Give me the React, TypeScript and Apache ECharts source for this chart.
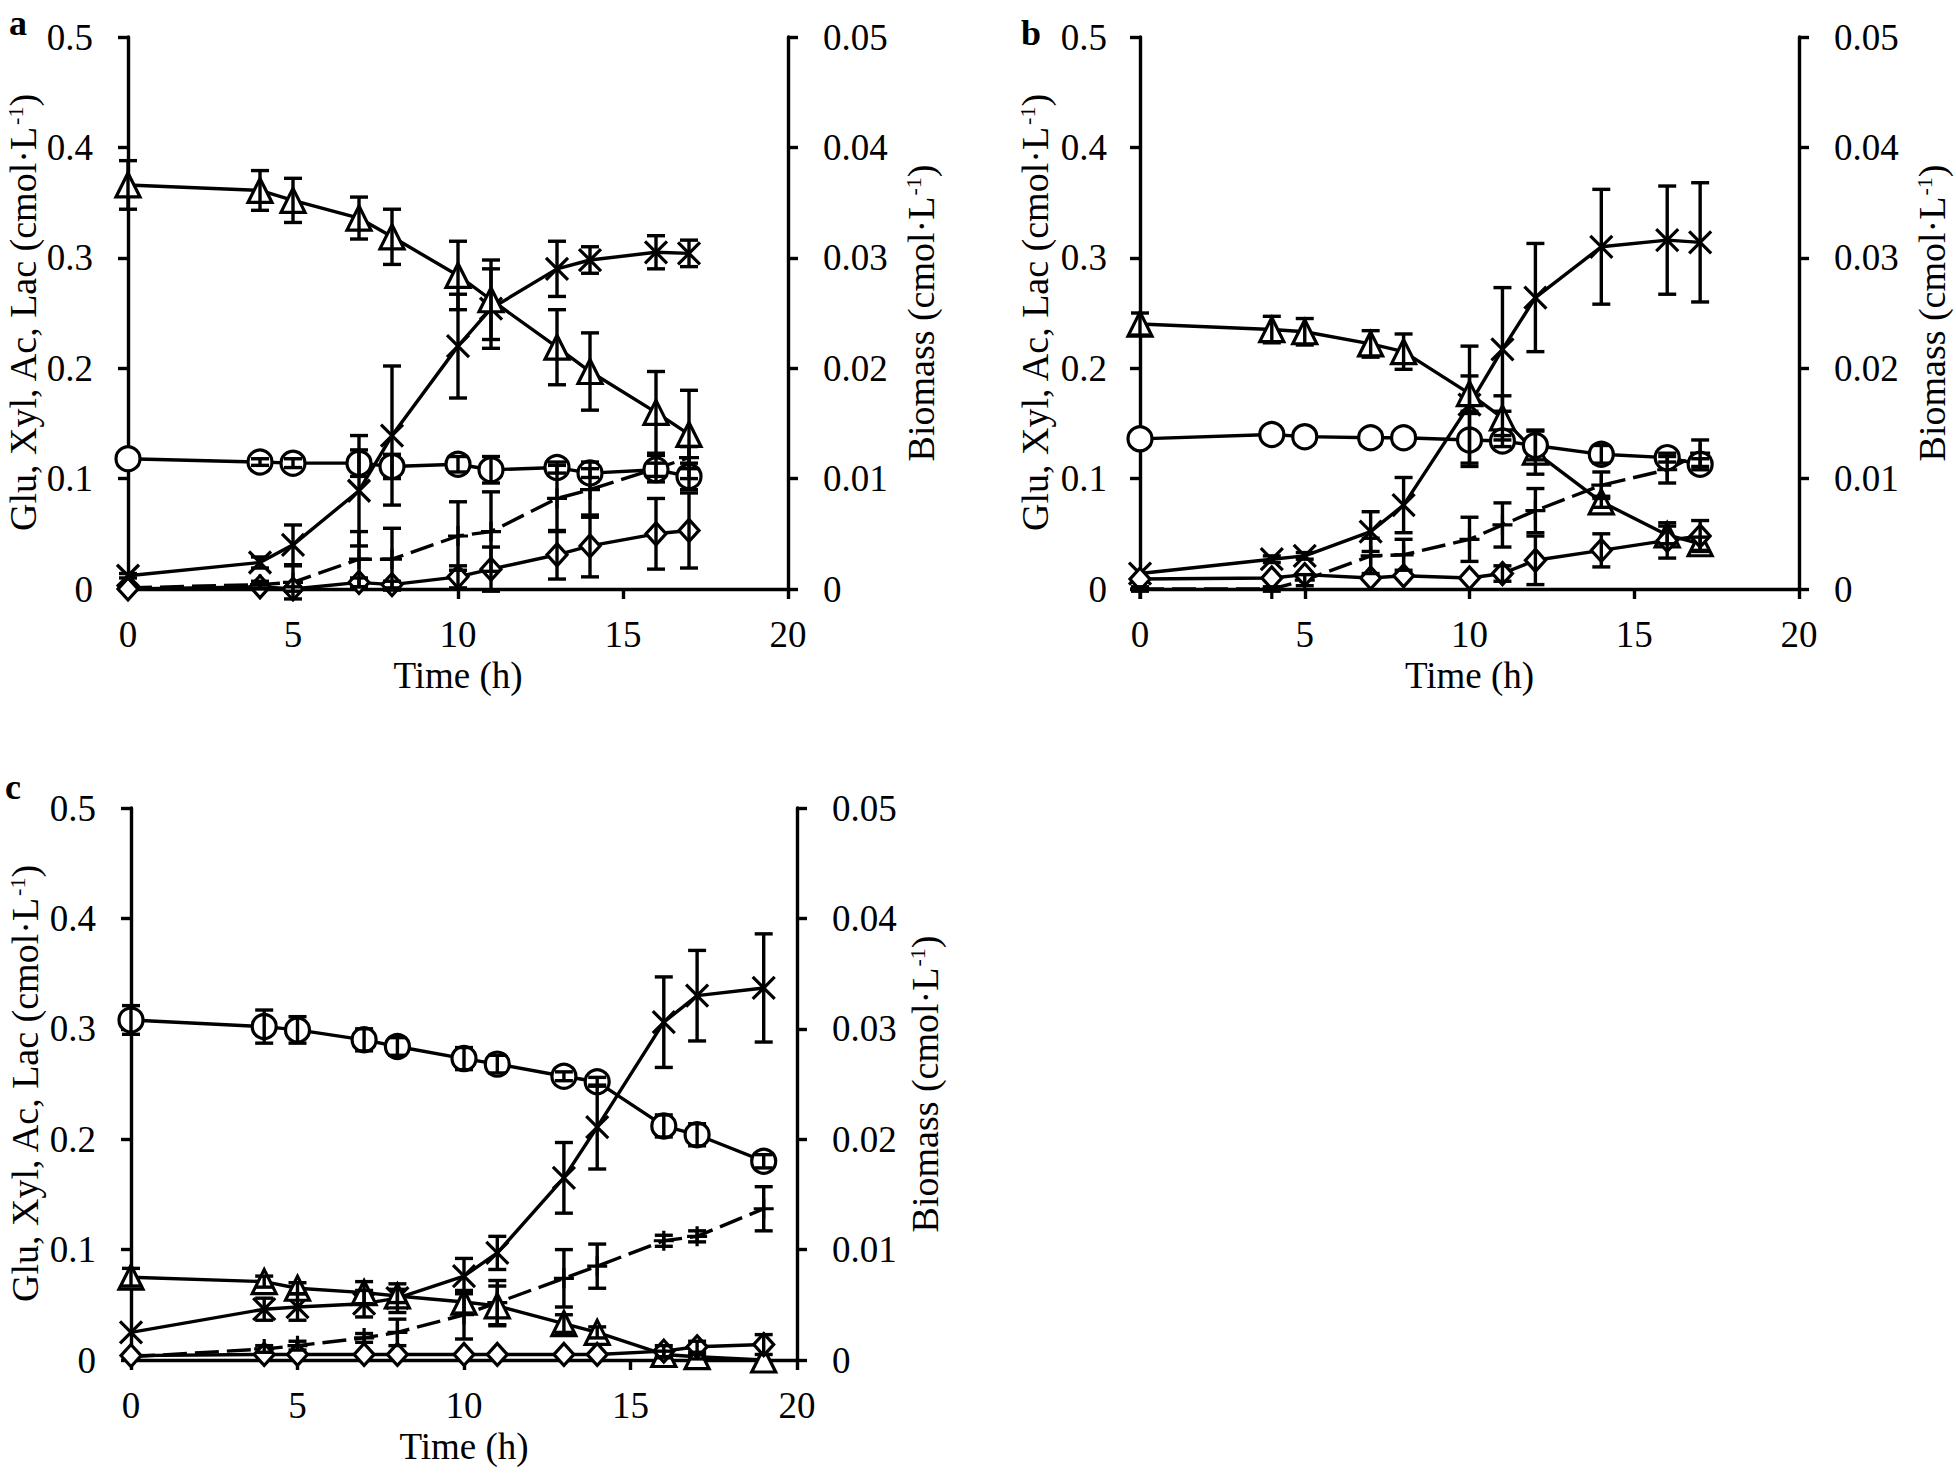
import React, { useEffect, useRef } from 'react';
import * as echarts from 'echarts';

// ---------- Data (left axis: cmol/L ; biomass: right axis cmol/L) ----------
const TIME_A = [0, 4, 5, 7, 8, 10, 11, 13, 14, 16, 17];
const GLU_A = [0.118, 0.115, 0.114, 0.114, 0.111, 0.113, 0.108, 0.110, 0.105, 0.108, 0.102];
const GLU_A_ERR = [0, 0.003, 0.004, 0.012, 0.011, 0.007, 0.012, 0.005, 0.004, 0.006, 0.012];
const XYL_A = [0.366, 0.361, 0.352, 0.336, 0.319, 0.284, 0.262, 0.219, 0.197, 0.160, 0.140];
const XYL_A_ERR = [0.022, 0.018, 0.020, 0.019, 0.025, 0.031, 0.036, 0.034, 0.035, 0.037, 0.040];
const AC_A = [0.001, 0.004, 0.006, 0.027, 0.027, 0.048, 0.052, 0.082, 0.090, 0.109, 0.119];
const AC_A_ERR = [0, 0.003, 0.015, 0.025, 0.028, 0.031, 0.036, 0.030, 0.025, 0.012, 0.010];
const LAC_A = [0.000, 0.002, 0.000, 0.006, 0.004, 0.011, 0.018, 0.031, 0.039, 0.050, 0.053];
const LAC_A_ERR = [0, 0.002, 0.002, 0.004, 0.003, 0.010, 0.020, 0.022, 0.028, 0.032, 0.034];
const BIO_A = [0.0012, 0.0024, 0.0040, 0.0089, 0.0139, 0.0220, 0.0254, 0.0290, 0.0298, 0.0305, 0.0304];
const BIO_A_ERR = [0.0002, 0.0005, 0.0018, 0.0050, 0.0063, 0.0047, 0.0036, 0.0025, 0.0012, 0.0015, 0.0012];

const TIME_B = [0, 4, 5, 7, 8, 10, 11, 12, 14, 16, 17];
const GLU_B = [0.136, 0.140, 0.138, 0.137, 0.137, 0.135, 0.134, 0.130, 0.122, 0.119, 0.113];
const GLU_B_ERR = [0, 0, 0, 0, 0, 0.024, 0.005, 0.013, 0.008, 0.004, 0.005];
const XYL_B = [0.240, 0.235, 0.233, 0.222, 0.215, 0.177, 0.155, 0.124, 0.079, 0.049, 0.041];
const XYL_B_ERR = [0.010, 0.012, 0.012, 0.012, 0.016, 0.016, 0.020, 0.020, 0.005, 0.008, 0.006];
const AC_B = [0.000, 0.000, 0.008, 0.030, 0.031, 0.045, 0.058, 0.071, 0.094, 0.108, 0.123];
const AC_B_ERR = [0.002, 0.002, 0.005, 0.016, 0.014, 0.020, 0.020, 0.020, 0.012, 0.012, 0.012];
const LAC_B = [0.009, 0.010, 0.013, 0.010, 0.012, 0.010, 0.014, 0.026, 0.035, 0.044, 0.048];
const LAC_B_ERR = [0, 0, 0, 0, 0, 0, 0.007, 0.022, 0.015, 0.016, 0.014];
const BIO_B = [0.0014, 0.0027, 0.0030, 0.0052, 0.0076, 0.0167, 0.0217, 0.0264, 0.0310, 0.0316, 0.0314];
const BIO_B_ERR = [0, 0.0003, 0.0003, 0.0018, 0.0025, 0.0053, 0.0056, 0.0049, 0.0052, 0.0049, 0.0054];

const TIME_C = [0, 4, 5, 7, 8, 10, 11, 13, 14, 16, 17, 19];
const GLU_C = [0.308, 0.302, 0.299, 0.290, 0.284, 0.273, 0.268, 0.257, 0.252, 0.212, 0.204, 0.180];
const GLU_C_ERR = [0.013, 0.015, 0.012, 0.010, 0.008, 0.010, 0.008, 0.004, 0.004, 0.010, 0.010, 0.006];
const XYL_C = [0.075, 0.071, 0.065, 0.061, 0.058, 0.0525, 0.049, 0.033, 0.025, 0.005, 0.003, 0.000];
const XYL_C_ERR = [0.008, 0.005, 0.005, 0.010, 0.006, 0.010, 0.018, 0.008, 0.005, 0.003, 0.002, 0];
const AC_C = [0.003, 0.010, 0.013, 0.020, 0.025, 0.041, 0.052, 0.074, 0.085, 0.108, 0.112, 0.137];
const AC_C_ERR = [0, 0.003, 0.004, 0.004, 0.012, 0.022, 0.020, 0.026, 0.020, 0.005, 0.005, 0.020];
const LAC_C = [0.004, 0.005, 0.005, 0.005, 0.005, 0.005, 0.005, 0.005, 0.005, 0.008, 0.012, 0.014];
const LAC_C_ERR = [0, 0, 0, 0, 0, 0, 0, 0, 0, 0.005, 0.005, 0.009];
const BIO_C = [0.0025, 0.0046, 0.0048, 0.0051, 0.0056, 0.0076, 0.0097, 0.0165, 0.0211, 0.0306, 0.0330, 0.0337];
const BIO_C_ERR = [0, 0.0010, 0.0012, 0.0012, 0.0013, 0.0016, 0.0015, 0.0032, 0.0038, 0.0041, 0.0041, 0.0049];

const X_TICKS = [0, 5, 10, 15, 20];
const LEFT_TICKS = [0, 0.1, 0.2, 0.3, 0.4, 0.5];
const RIGHT_TICKS = [0, 0.01, 0.02, 0.03, 0.04, 0.05];
const PANEL_LETTERS = ['a', 'b', 'c'];
const X_TITLE = 'Time (h)';
const LEFT_TITLE = 'Glu, Xyl, Ac, Lac (cmol·L{sup|-1})';
const RIGHT_TITLE = 'Biomass (cmol·L{sup|-1})';

// ---------- Styling / layout ----------
const FONT = '"Liberation Serif", "Times New Roman", serif';
const TICK_FS = 37;
const XNAME_FS = 37;
const YNAME_FS = 38;
const LW = 3.4;

const PANELS = [
  {
    time: TIME_A, glu: GLU_A, gluE: GLU_A_ERR, xyl: XYL_A, xylE: XYL_A_ERR, ac: AC_A, acE: AC_A_ERR,
    lac: LAC_A, lacE: LAC_A_ERR, bio: BIO_A, bioE: BIO_A_ERR,
    grid: { left: 128, top: 37, width: 660, height: 552 },
    leftTitle: [23, 313], rightTitle: [921, 313],
    xGap: 66, leftMargin: 35, rightMargin: 35,
    letterPos: [18, 23],
  },
  {
    time: TIME_B, glu: GLU_B, gluE: GLU_B_ERR, xyl: XYL_B, xylE: XYL_B_ERR, ac: AC_B, acE: AC_B_ERR,
    lac: LAC_B, lacE: LAC_B_ERR, bio: BIO_B, bioE: BIO_B_ERR,
    grid: { left: 1140, top: 37, width: 659, height: 552 },
    leftTitle: [1035, 313], rightTitle: [1932, 313],
    xGap: 66, leftMargin: 33, rightMargin: 35,
    letterPos: [1031, 33],
  },
  {
    time: TIME_C, glu: GLU_C, gluE: GLU_C_ERR, xyl: XYL_C, xylE: XYL_C_ERR, ac: AC_C, acE: AC_C_ERR,
    lac: LAC_C, lacE: LAC_C_ERR, bio: BIO_C, bioE: BIO_C_ERR,
    grid: { left: 131, top: 808, width: 666, height: 552 },
    leftTitle: [25, 1084], rightTitle: [925, 1084],
    xGap: 66, leftMargin: 35, rightMargin: 35,
    letterPos: [13, 787],
  },
];

const X_PATH = 'path://M0,0L10,10M10,0L0,10';
const PLUS_PATH = 'path://M5,0L5,10M0,5L10,5';

function lineSeries(name: string, times: number[], vals: number[], symbol: string, size: number | number[],
  dashed: boolean, xi: number, yi: number, z: number) {
  return {
    type: 'line',
    name,
    xAxisIndex: xi,
    yAxisIndex: yi,
    data: times.map((t, k) => [t, vals[k]]),
    symbol,
    symbolSize: size,
    showSymbol: true,
    clip: false,
    lineStyle: { color: '#000', width: LW, type: dashed ? [24, 8] : 'solid' },
    itemStyle: { color: '#fff', borderColor: '#000', borderWidth: 3.2 },
    emphasis: { disabled: true },
    z,
  };
}

function errSeries(name: string, times: number[], vals: number[], errs: number[], xi: number, yi: number) {
  const data: number[][] = [];
  times.forEach((t, k) => {
    if (errs[k] > 0) data.push([t, vals[k] - errs[k], vals[k] + errs[k]]);
  });
  return {
    type: 'custom',
    name: name + ' err',
    xAxisIndex: xi,
    yAxisIndex: yi,
    data,
    encode: { x: 0, y: [1, 2] },
    z: 6,
    silent: true,
    renderItem: (params: any, api: any) => {
      const x = api.value(0);
      const lo = api.value(1);
      const hi = api.value(2);
      const p1 = api.coord([x, hi]);
      const p2 = api.coord([x, lo]);
      const w = 9;
      const style = { stroke: '#000', lineWidth: LW, fill: null };
      return {
        type: 'group',
        children: [
          { type: 'line', shape: { x1: p1[0], y1: p1[1], x2: p2[0], y2: p2[1] }, style },
          { type: 'line', shape: { x1: p1[0] - w, y1: p1[1], x2: p1[0] + w, y2: p1[1] }, style },
          { type: 'line', shape: { x1: p2[0] - w, y1: p2[1], x2: p2[0] + w, y2: p2[1] }, style },
        ],
      };
    },
  };
}

function titleText(text: string, pos: number[]) {
  return {
    type: 'text',
    x: pos[0],
    y: pos[1],
    rotation: Math.PI / 2,
    silent: true,
    style: {
      text,
      fontFamily: FONT,
      fontSize: YNAME_FS,
      fill: '#000',
      lineHeight: 38,
      align: 'center',
      verticalAlign: 'middle',
      rich: {
        sup: { fontFamily: FONT, fontSize: 22, fill: '#000', verticalAlign: 'top', lineHeight: 28, padding: [0, 0, 0, 1] },
      },
    },
  };
}

function buildOption() {
  const grids: any[] = [];
  const xAxes: any[] = [];
  const yAxes: any[] = [];
  const series: any[] = [];
  const graphics: any[] = [];

  PANELS.forEach((p, i) => {
    grids.push({ ...p.grid, containLabel: false });
    const axisLine = { show: true, onZero: false, lineStyle: { color: '#000', width: LW } };
    const axisTick = { show: true, inside: false, length: 10, lineStyle: { color: '#000', width: LW } };
    const label = (margin: number) => ({ fontFamily: FONT, fontSize: TICK_FS, color: '#000', margin, lineHeight: TICK_FS });
    xAxes.push({
      type: 'value', gridIndex: i, min: X_TICKS[0], max: X_TICKS[X_TICKS.length - 1],
      interval: X_TICKS[1] - X_TICKS[0],
      axisLine, axisTick, splitLine: { show: false },
      axisLabel: label(27),
      name: X_TITLE, nameLocation: 'middle', nameGap: p.xGap,
      nameTextStyle: { fontFamily: FONT, fontSize: XNAME_FS, color: '#000', lineHeight: 40 },
    });
    yAxes.push({
      type: 'value', gridIndex: i, position: 'left', min: LEFT_TICKS[0], max: LEFT_TICKS[LEFT_TICKS.length - 1],
      interval: LEFT_TICKS[1] - LEFT_TICKS[0],
      axisLine, axisTick, splitLine: { show: false },
      axisLabel: label(p.leftMargin),
    });
    yAxes.push({
      type: 'value', gridIndex: i, position: 'right', min: RIGHT_TICKS[0], max: RIGHT_TICKS[RIGHT_TICKS.length - 1],
      interval: RIGHT_TICKS[1] - RIGHT_TICKS[0],
      axisLine, axisTick, splitLine: { show: false },
      axisLabel: label(p.rightMargin),
    });

    const yl = 2 * i;
    const yr = 2 * i + 1;
    series.push(lineSeries('Ac', p.time, p.ac, PLUS_PATH, 20, true, i, yl, 2));
    series.push(lineSeries('Biomass', p.time, p.bio, X_PATH, 22, false, i, yr, 3));
    series.push(lineSeries('Xyl', p.time, p.xyl, 'triangle', 24, false, i, yl, 3));
    series.push(lineSeries('Glu', p.time, p.glu, 'circle', 24, false, i, yl, 3));
    series.push(lineSeries('Lac', p.time, p.lac, 'diamond', [20, 22], false, i, yl, 4));
    series.push(errSeries('Ac', p.time, p.ac, p.acE, i, yl));
    series.push(errSeries('Biomass', p.time, p.bio, p.bioE, i, yr));
    series.push(errSeries('Xyl', p.time, p.xyl, p.xylE, i, yl));
    series.push(errSeries('Glu', p.time, p.glu, p.gluE, i, yl));
    series.push(errSeries('Lac', p.time, p.lac, p.lacE, i, yl));

    graphics.push(titleText(LEFT_TITLE, p.leftTitle));
    graphics.push(titleText(RIGHT_TITLE, p.rightTitle));
    graphics.push({
      type: 'text', x: p.letterPos[0], y: p.letterPos[1], silent: true,
      style: {
        text: PANEL_LETTERS[i], fontFamily: FONT, fontSize: 36, fontWeight: 'bold', fill: '#000',
        align: 'center', verticalAlign: 'middle',
      },
    });
  });

  return {
    animation: false,
    backgroundColor: '#fff',
    grid: grids,
    xAxis: xAxes,
    yAxis: yAxes,
    series,
    graphic: graphics,
  };
}

export default function App() {
  const ref = useRef<HTMLDivElement>(null);
  useEffect(() => {
    const chart = echarts.init(ref.current as HTMLDivElement, null, { renderer: 'svg' });
    chart.setOption(buildOption() as any);
    return () => chart.dispose();
  }, []);
  return (
    <div
      ref={ref}
      style={{ position: 'fixed', left: 0, top: 0, width: 1956, height: 1478, background: '#fff' }}
    />
  );
}
